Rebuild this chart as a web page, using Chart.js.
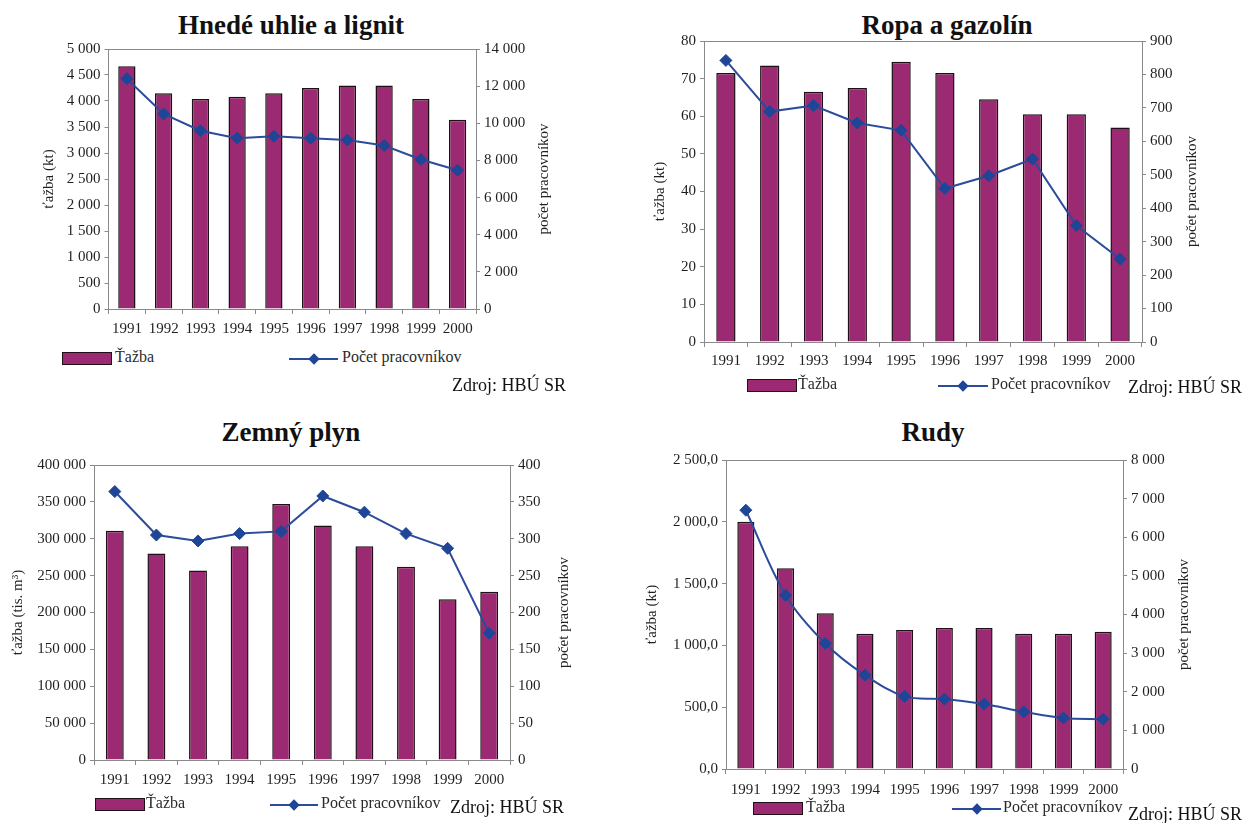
<!DOCTYPE html>
<html>
<head>
<meta charset="utf-8">
<script src="https://cdn.jsdelivr.net/npm/chart.js@4.4.0/dist/chart.umd.min.js"></script>
<style>
  html, body { margin:0; padding:0; background:#fff; }
  body { width:1243px; height:823px; position:relative; overflow:hidden; font-family:"Liberation Serif", serif; color:#1a1a1a; }
  .abs { position:absolute; }
  .ttl { position:absolute; font-weight:bold; font-size:27px; line-height:1; white-space:nowrap; transform:translateX(-50%); color:#111; }
  .lgt { position:absolute; font-size:16px; line-height:1; white-space:nowrap; color:#2a2a2a; }
  .box { position:absolute; width:48px; height:11px; background:#9c2a72; border:1.5px solid #1e1016; }
  .lline { position:absolute; height:2px; background:#2b4b9b; }
  .dia { position:absolute; width:8px; height:8px; background:#1f4597; transform:rotate(45deg); }
  .src { position:absolute; font-size:18px; line-height:1; white-space:nowrap; color:#111; }
  canvas { display:block; }
</style>
</head>
<body>
<div class="ttl" style="left:291px; top:11.5px;">Hnedé uhlie a lignit</div>
<div class="ttl" style="left:947px; top:11.5px;">Ropa a gazolín</div>
<div class="ttl" style="left:291px; top:418.5px;">Zemný plyn</div>
<div class="ttl" style="left:933px; top:418.5px;">Rudy</div>

<div class="abs" style="left:40px; top:36px; width:513px; height:308px;"><canvas id="c1" width="513" height="308"></canvas></div>
<div class="abs" style="left:651px; top:28px; width:550px; height:349px;"><canvas id="c2" width="550" height="349"></canvas></div>
<div class="abs" style="left:9px; top:452px; width:564px; height:343px;"><canvas id="c3" width="564" height="343"></canvas></div>
<div class="abs" style="left:643px; top:447px; width:550px; height:357px;"><canvas id="c4" width="550" height="357"></canvas></div>

<div id="legends"></div>

<script>
// ---- data ----
const years = ['1991','1992','1993','1994','1995','1996','1997','1998','1999','2000'];

const uhlieTazba      = [4670, 4150, 4040, 4080, 4150, 4250, 4300, 4300, 4040, 3640];
const uhliePracovnici = [12400, 10500, 9600, 9200, 9300, 9200, 9100, 8800, 8050, 7470];

const ropaTazba      = [71.5, 73.5, 66.5, 67.5, 74.5, 71.5, 64.5, 60.5, 60.5, 57];
const ropaPracovnici = [842, 689, 707, 655, 633, 459, 497, 547, 348, 248];

const plynTazba      = [311000, 280000, 257000, 290000, 347000, 318000, 290000, 262000, 218000, 228000];
const plynPracovnici = [364, 305, 297, 307, 310, 358, 336, 307, 287, 172];

const rudyTazba      = [2000, 1625, 1260, 1095, 1125, 1140, 1140, 1095, 1095, 1110];
const rudyPracovnici = [6700, 4500, 3250, 2430, 1880, 1810, 1680, 1480, 1320, 1290];

// tick labels
const uhlieLeftTicks  = ['0','500','1 000','1 500','2 000','2 500','3 000','3 500','4 000','4 500','5 000'];
const uhlieRightTicks = ['0','2 000','4 000','6 000','8 000','10 000','12 000','14 000'];
const ropaLeftTicks   = ['0','10','20','30','40','50','60','70','80'];
const ropaRightTicks  = ['0','100','200','300','400','500','600','700','800','900'];
const plynLeftTicks   = ['0','50 000','100 000','150 000','200 000','250 000','300 000','350 000','400 000'];
const plynRightTicks  = ['0','50','100','150','200','250','300','350','400'];
const rudyLeftTicks   = ['0,0','500,0','1 000,0','1 500,0','2 000,0','2 500,0'];
const rudyRightTicks  = ['0','1 000','2 000','3 000','4 000','5 000','6 000','7 000','8 000'];

const legendBar  = 'Ťažba';
const legendLine = 'Počet pracovníkov';
const sourceText = 'Zdroj: HBÚ SR';

// ---- styling ----
const FONT = "'Liberation Serif', serif";
const BAR_FILL = '#9c2a72';
const BAR_EDGE = '#1e1016';
const LINE_COL = '#2b4b9b';
const PT_COL = '#1f4597';
const AXIS_COL = '#8a8a8a';
const TXT = '#1f1f1f';

Chart.defaults.font.family = FONT;

const framePlugin = {
  id: 'frame',
  beforeDatasetsDraw(chart) {
    const a = chart.chartArea, ctx = chart.ctx;
    ctx.save();
    ctx.strokeStyle = AXIS_COL;
    ctx.lineWidth = 1;
    ctx.beginPath();
    ctx.moveTo(a.left, a.top + 0.5);
    ctx.lineTo(a.right, a.top + 0.5);
    ctx.stroke();
    ctx.restore();
  }
};

const rightTitlePlugin = {
  id: 'rightTitle',
  afterDraw(chart, args, opts) {
    const a = chart.chartArea, ctx = chart.ctx;
    ctx.save();
    ctx.translate(chart.width - 9, (a.top + a.bottom) / 2);
    ctx.rotate(-Math.PI / 2);
    ctx.textAlign = 'center';
    ctx.textBaseline = 'middle';
    ctx.fillStyle = TXT;
    ctx.font = "15px 'Liberation Serif', serif";
    ctx.fillText(opts.text, 0, 0);
    ctx.restore();
  }
};

function makeChart(id, p) {
  const tickFont = { family: FONT, size: 15 };
  return new Chart(document.getElementById(id), {
    data: {
      labels: years,
      datasets: [
        {
          type: 'line', label: legendLine, data: p.line, yAxisID: 'y1', order: 0,
          borderColor: LINE_COL, borderWidth: 2, tension: p.tension || 0,
          pointStyle: 'rectRot', pointRadius: 6, pointBackgroundColor: PT_COL,
          pointBorderColor: PT_COL, pointBorderWidth: 1
        },
        {
          type: 'bar', label: legendBar, data: p.bars, yAxisID: 'y', order: 1,
          backgroundColor: BAR_FILL, borderColor: BAR_EDGE, borderWidth: 1.5,
          categoryPercentage: 1, barPercentage: p.barPct
        }
      ]
    },
    options: {
      responsive: false,
      animation: false,
      layout: { padding: { top: p.padTop, left: 0, right: 0, bottom: 0 } },
      plugins: {
        legend: { display: false },
        tooltip: { enabled: false },
        rightTitle: { text: p.rightTitle }
      },
      scales: {
        x: {
          type: 'category',
          grid: { offset: true, drawOnChartArea: false, tickLength: 5, color: AXIS_COL },
          border: { color: AXIS_COL },
          ticks: { font: tickFont, color: TXT, padding: p.xPad, maxRotation: 0, autoSkip: false },
          afterFit: s => { s.height = 35; }
        },
        y: {
          position: 'left', min: 0, max: p.lMax,
          grid: { drawOnChartArea: false, tickLength: 4, color: AXIS_COL },
          border: { color: AXIS_COL },
          ticks: { stepSize: p.lStep, font: tickFont, color: TXT, padding: 4,
                   callback: v => p.lTicks[Math.round(v / p.lStep)] },
          title: { display: true, text: p.leftTitle, font: { family: FONT, size: 15 }, color: TXT, padding: 0 },
          afterFit: s => { s.width = p.lW; }
        },
        y1: {
          position: 'right', min: 0, max: p.rMax,
          grid: { drawOnChartArea: false, tickLength: 4, color: AXIS_COL },
          border: { color: AXIS_COL },
          ticks: { stepSize: p.rStep, font: tickFont, color: TXT, padding: 4,
                   callback: v => p.rTicks[Math.round(v / p.rStep)] },
          afterFit: s => { s.width = p.rW; }
        }
      }
    },
    plugins: [framePlugin, rightTitlePlugin]
  });
}

function drawAll() {
  makeChart('c1', { bars: uhlieTazba, line: uhliePracovnici, lMax: 5000, lStep: 500, lTicks: uhlieLeftTicks,
    rMax: 14000, rStep: 2000, rTicks: uhlieRightTicks, lW: 68.5, rW: 77, padTop: 12.5, xPad: 6, barPct: 0.47,
    leftTitle: 'ťažba (kt)', rightTitle: 'počet pracovníkov' });
  makeChart('c2', { bars: ropaTazba, line: ropaPracovnici, lMax: 80, lStep: 10, lTicks: ropaLeftTicks,
    rMax: 900, rStep: 100, rTicks: ropaRightTicks, lW: 53, rW: 59, padTop: 13, xPad: 5, barPct: 0.44,
    leftTitle: 'ťažba (kt)', rightTitle: 'počet pracovníkov' });
  makeChart('c3', { bars: plynTazba, line: plynPracovnici, lMax: 400000, lStep: 50000, lTicks: plynLeftTicks,
    rMax: 400, rStep: 50, rTicks: plynRightTicks, lW: 85, rW: 63, padTop: 13, xPad: 6, barPct: 0.43,
    leftTitle: 'ťažba (tis. m³)', rightTitle: 'počet pracovníkov' });
  makeChart('c4', { bars: rudyTazba, line: rudyPracovnici, lMax: 2500, lStep: 500, lTicks: rudyLeftTicks,
    rMax: 8000, rStep: 1000, rTicks: rudyRightTicks, lW: 83, rW: 70, padTop: 13, xPad: 7, barPct: 0.43,
    tension: 0.35, leftTitle: 'ťažba (kt)', rightTitle: 'počet pracovníkov' });
}

// ---- legends & source ----
const legendSpots = [
  { cy: 359, box: 62,  barText: 115, l1: 289, l2: 338, lineText: 342, srcX: 452,  srcY: 385 },
  { cy: 386, box: 747, barText: 798, l1: 938, l2: 988, lineText: 991, srcX: 1128, srcY: 387 },
  { cy: 805, box: 95,  barText: 146, l1: 270, l2: 318, lineText: 321, srcX: 450,  srcY: 807 },
  { cy: 809, box: 753, barText: 806, l1: 952, l2: 1001, lineText: 1003, srcX: 1128, srcY: 814 }
];
const host = document.getElementById('legends');
legendSpots.forEach(s => {
  const f = 16;
  host.insertAdjacentHTML('beforeend',
    `<div class="box" style="left:${s.box}px; top:${s.cy - 7}px;"></div>` +
    `<div class="lgt" style="left:${s.barText}px; top:${s.cy - 0.61 * f}px;">${legendBar}</div>` +
    `<div class="lline" style="left:${s.l1}px; width:${s.l2 - s.l1}px; top:${s.cy - 1}px;"></div>` +
    `<div class="dia" style="left:${(s.l1 + s.l2) / 2 - 4}px; top:${s.cy - 4}px;"></div>` +
    `<div class="lgt" style="left:${s.lineText}px; top:${s.cy - 0.61 * f}px;">${legendLine}</div>` +
    `<div class="src" style="left:${s.srcX}px; top:${s.srcY - 9}px;">${sourceText}</div>`
  );
});

if (document.fonts && document.fonts.load) {
  document.fonts.load("15px 'Liberation Serif'").then(drawAll, drawAll);
} else {
  drawAll();
}
</script>
</body>
</html>
